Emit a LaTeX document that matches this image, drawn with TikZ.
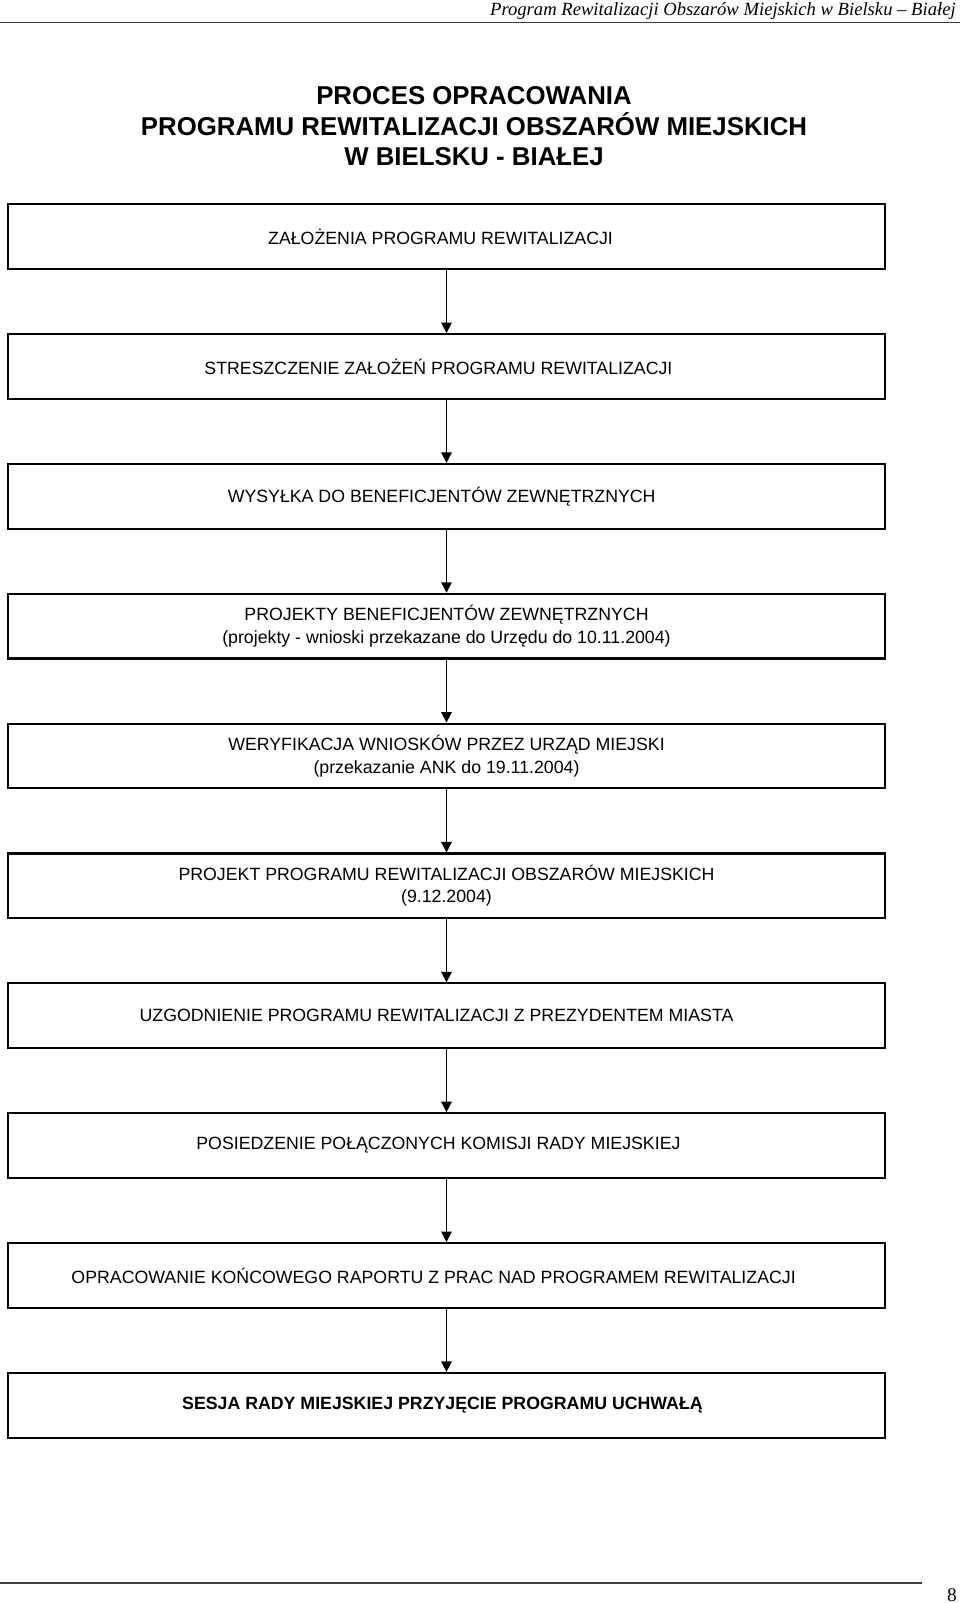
\documentclass[tikz,border=0pt]{standalone}
\usepackage{fontspec}
\setmainfont{Liberation Sans}
\newfontfamily\hdrfont{Liberation Serif}
\usetikzlibrary{arrows.meta}
\newcommand\trailsp[1]{\hspace*{#1}}
\tikzset{
  stepbox/.style={draw, line width=1.3pt, minimum width=543.7pt, minimum height=40.1pt,
    inner sep=0pt, align=center, font=\fontsize{11}{13.9}\selectfont},
  arr/.style={line width=0.9pt, -{Triangle[width=6.5pt,length=6.5pt]}},
  titletext/.style={font=\fontsize{16}{18.6}\selectfont\bfseries, inner sep=0pt, anchor=base},
  rule/.style={line width=0.7pt, draw=black!75},
}
\begin{document}
\begin{tikzpicture}[x=0.62pt,y=-0.62pt]
\useasboundingbox (0,0) rectangle (960,1603);
% header
\node[anchor=base east, inner sep=0pt, font=\hdrfont\itshape\fontsize{11.55}{14}\selectfont] (hdr) at (956,15) {Program Rewitalizacji Obszarów Miejskich w Bielsku – Białej};
\coordinate (hl) at (0,22.5);
\coordinate (hr) at (960,22.5);
\draw[rule] (hl) -- (hr);
% title
\node[titletext] (t1) at (474,104.3) {PROCES OPRACOWANIA};
\node[titletext] (t2) at (474,135.1) {PROGRAMU REWITALIZACJI OBSZARÓW MIEJSKICH};
\node[titletext] (t3) at (474,165.7) {W BIELSKU - BIAŁEJ};
% boxes
\node[stepbox] (b1) at (446.5,236.6) {ZAŁOŻENIA PROGRAMU REWITALIZACJI\trailsp{7.4pt}};
\node[stepbox] (b2) at (446.5,366.45) {STRESZCZENIE ZAŁOŻEŃ PROGRAMU REWITALIZACJI\trailsp{10pt}};
\node[stepbox] (b3) at (446.5,496.3) {WYSYŁKA DO BENEFICJENTÓW ZEWNĘTRZNYCH\trailsp{6pt}};
\node[stepbox] (b4) at (446.5,626.15) {PROJEKTY BENEFICJENTÓW ZEWNĘTRZNYCH\\(projekty - wnioski przekazane do Urzędu do 10.11.2004)};
\node[stepbox] (b5) at (446.5,756.0) {WERYFIKACJA WNIOSKÓW PRZEZ URZĄD MIEJSKI\\(przekazanie ANK do 19.11.2004)};
\node[stepbox] (b6) at (446.5,885.85) {PROJEKT PROGRAMU REWITALIZACJI OBSZARÓW MIEJSKICH\\(9.12.2004)};
\node[stepbox] (b7) at (446.5,1015.7) {UZGODNIENIE PROGRAMU REWITALIZACJI Z PREZYDENTEM MIASTA\trailsp{12.4pt}};
\node[stepbox] (b8) at (446.5,1145.55) {POSIEDZENIE POŁĄCZONYCH KOMISJI RADY MIEJSKIEJ\trailsp{10pt}};
\node[stepbox] (b9) at (446.5,1275.4) {OPRACOWANIE KOŃCOWEGO RAPORTU Z PRAC NAD PROGRAMEM REWITALIZACJI\trailsp{16pt}};
\node[stepbox, font=\fontsize{11}{13.9}\selectfont\bfseries] (b10) at (446.5,1405.25) {SESJA RADY MIEJSKIEJ PRZYJĘCIE PROGRAMU UCHWAŁĄ\trailsp{5pt}};
% arrows
\foreach \a/\b in {b1/b2,b2/b3,b3/b4,b4/b5,b5/b6,b6/b7,b7/b8,b8/b9,b9/b10}
  \draw[arr] (\a.south) -- (\b.north);
% footer
\coordinate (fl) at (0,1583);
\coordinate (fr) at (922,1583);
\draw[rule] (fl) -- (fr);
\node[anchor=base, inner sep=0pt, font=\hdrfont\fontsize{12}{14}\selectfont] (pg) at (952,1601) {8};
\end{tikzpicture}
\end{document}
